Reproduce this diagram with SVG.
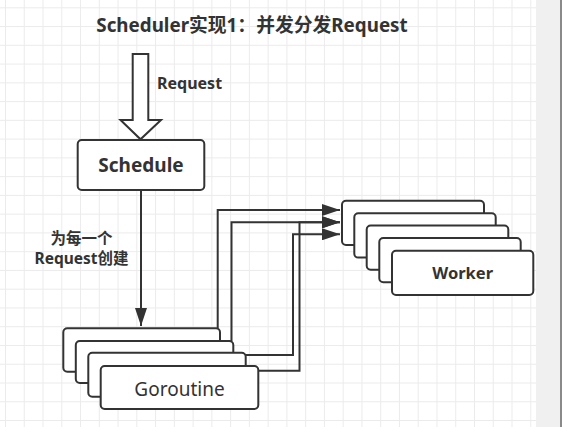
<svg xmlns="http://www.w3.org/2000/svg" width="562" height="427" viewBox="0 0 562 427">
<style>
.box{fill:#ffffff;stroke:#333333;stroke-width:2}
.conn{fill:none;stroke:#333333;stroke-width:2}
.t{font-family:"Noto Sans","Noto Sans CJK SC",sans-serif;fill:#333333}
.b{font-weight:bold}
</style>
<defs>
<pattern id="grid" patternUnits="userSpaceOnUse" x="5" y="7.3" width="18.76" height="18.76">
<path d="M0,0.5 H18.76 M0.5,0 V18.76" fill="none" stroke="#ebebeb" stroke-width="1"/>
</pattern>
<marker id="arr" markerUnits="userSpaceOnUse" viewBox="0 0 18 12" refX="18" refY="6" markerWidth="18" markerHeight="12" orient="auto">
<path d="M0,0 L18,6 L0,12 z" fill="#333333"/>
</marker>
</defs>
<rect x="0" y="0" width="562" height="427" fill="#ffffff"/>
<rect x="0" y="0" width="536" height="427" fill="url(#grid)"/>
<rect x="536" y="0" width="25" height="427" fill="#f0f0f0"/>
<rect x="560" y="0" width="2" height="427" fill="#8a8a8a"/>

<g id="title">
<text class="t b" x="252" y="31.5" font-size="18.8" text-anchor="middle">Scheduler实现1：并发分发Request</text>
</g>

<g id="input-arrow">
<polygon points="132.7,54 148.3,54 148.3,120 161,120 140.5,139.3 120.5,120 132.7,120" fill="#ffffff" stroke="#333333" stroke-width="2"/>
<text class="t b" x="157" y="89" font-size="16">Request</text>
</g>

<g id="connectors">
<path class="conn" d="M141,190 V326" marker-end="url(#arr)"/>
<path class="conn" d="M217.7,328 V210 H340" marker-end="url(#arr)"/>
<path class="conn" d="M231.5,341 V222.3 H340" marker-end="url(#arr)"/>
<path class="conn" d="M245.7,355 H293 V234.3 H340" marker-end="url(#arr)"/>
<path class="conn" d="M258.3,370.7 H299.5 V222.3 H340" marker-end="url(#arr)"/>
<text class="t b" x="81.5" y="243.5" font-size="15.5" text-anchor="middle">为每一个</text>
<text class="t b" x="81.5" y="264" font-size="15.5" text-anchor="middle">Request创建</text>
</g>

<g id="schedule">
<rect class="box" x="77.7" y="140" width="126.6" height="50" rx="4"/>
<text class="t b" x="141" y="172" font-size="19" text-anchor="middle">Schedule</text>
</g>

<g id="goroutines">
<rect class="box" x="63.3" y="328.3" width="156.7" height="43.4" rx="4"/>
<rect class="box" x="75.8" y="341" width="157.5" height="42" rx="4"/>
<rect class="box" x="88.3" y="352.7" width="157.4" height="44" rx="4"/>
<rect class="box" x="100.7" y="366" width="157.6" height="43" rx="4"/>
<text class="t" x="179.5" y="396" font-size="19" text-anchor="middle">Goroutine</text>
</g>

<g id="workers">
<rect class="box" x="342" y="200.7" width="142" height="44.3" rx="4"/>
<rect class="box" x="354.3" y="213.3" width="141.4" height="44.3" rx="4"/>
<rect class="box" x="366.7" y="225.5" width="141.6" height="44.3" rx="4"/>
<rect class="box" x="379.3" y="238" width="141.4" height="44.3" rx="4"/>
<rect class="box" x="392" y="250.7" width="141.3" height="44.3" rx="4"/>
<text class="t b" x="462.7" y="279" font-size="16.5" text-anchor="middle">Worker</text>
</g>
</svg>
